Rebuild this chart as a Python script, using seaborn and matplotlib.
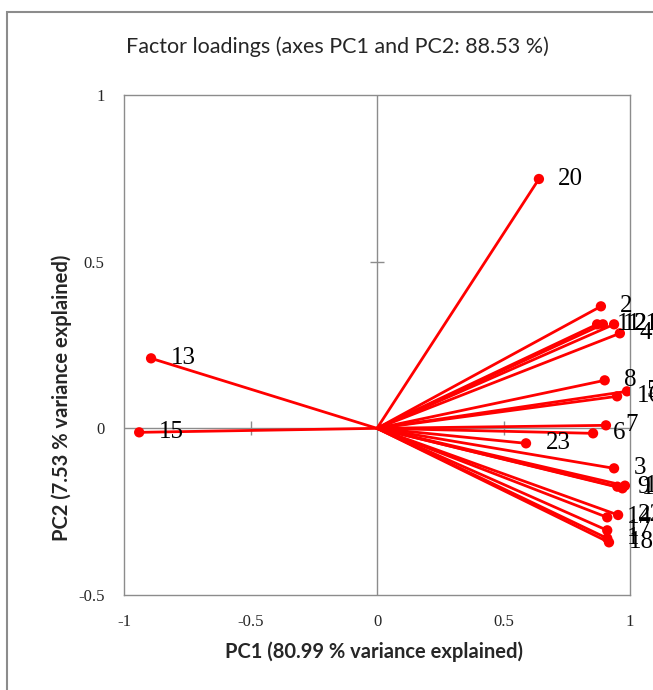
import matplotlib
matplotlib.use('Agg')
import matplotlib.pyplot as plt
from matplotlib.patches import Rectangle
import seaborn as sns
import pandas as pd

# factor loadings
labels = ['1', '2', '3', '4', '5', '6', '7', '8', '9', '10', '11', '12',
          '13', '14', '15', '16', '17', '18', '19', '20', '21', '22', '23']
pc1 = [0.91, 0.885, 0.937, 0.96, 0.988, 0.854, 0.905, 0.90, 0.95, 0.97,
       0.87, 0.893, -0.893, 0.91, -0.94, 0.949, 0.91, 0.917, 0.98, 0.64,
       0.937, 0.953, 0.589]
pc2 = [-0.33, 0.366, -0.12, 0.285, 0.111, -0.015, 0.009, 0.144, -0.175,
       -0.18, 0.312, 0.312, 0.21, -0.267, -0.012, 0.096, -0.306, -0.342,
       -0.172, 0.748, 0.312, -0.26, -0.045]

x_ticks = [-1, -0.5, 0, 0.5, 1]
y_ticks = [-0.5, 0, 0.5, 1]
grey = '#8c8c8c'

sns.set_style('white')
plt.rcParams['font.family'] = ['Liberation Serif', 'DejaVu Serif']

# one segment from the origin to each loading
segments = pd.DataFrame({
    'var': labels * 2,
    'x': [0.0] * len(labels) + pc1,
    'y': [0.0] * len(labels) + pc2,
})

fig = plt.figure(figsize=(6.53, 6.90), dpi=100)
ax = fig.add_axes([124 / 653, 1 - 595 / 690, 506 / 653, 500 / 690])

# cross-hair through the origin with small ticks
ax.axhline(0, color=grey, lw=1, zorder=1)
ax.axvline(0, color=grey, lw=1, zorder=1)
ax.plot([t for t in x_ticks if abs(t) == 0.5], [0, 0], ls='none',
        marker='|', ms=10, mew=1, color=grey, zorder=1)
ax.plot([0], [0.5], ls='none', marker='_', ms=10, mew=1, color=grey, zorder=1)

sns.lineplot(data=segments, x='x', y='y', units='var', estimator=None,
             sort=False, color='red', lw=2, ax=ax, zorder=2)
sns.scatterplot(x=pc1, y=pc2, color='red', s=55, edgecolor='none',
                ax=ax, zorder=3)

for name, px, py in zip(labels, pc1, pc2):
    ax.annotate(name, (px, py), xytext=(14, 0), textcoords='offset points',
                fontsize=18, va='center', ha='left', color='black',
                annotation_clip=False, zorder=4)

ax.set_xlim(-1, 1)
ax.set_ylim(-0.5, 1)
ax.set_xticks(x_ticks)
ax.set_xticklabels([f'{t:g}' for t in x_ticks])
ax.set_yticks(y_ticks)
ax.set_yticklabels([f'{t:g}' for t in y_ticks])
ax.tick_params(length=0, labelsize=12, pad=0)
ax.tick_params(axis='x', pad=14)
ax.tick_params(axis='y', pad=14)
ax.set_xlabel('')
ax.set_ylabel('')
for spine in ax.spines.values():
    spine.set_color(grey)
    spine.set_linewidth(1)

fig.text(337 / 653, 1 - 47 / 690, 'Factor loadings (axes PC1 and PC2: 88.53 %)',
         family='Lato', fontsize=15.5, ha='center', va='center')
fig.text(374 / 653, 1 - 652 / 690, 'PC1 (80.99 % variance explained)',
         family='Lato', fontsize=14.5, fontweight='bold', ha='center', va='center')
fig.text(62 / 653, 1 - 398 / 690, 'PC2 (7.53 % variance explained)',
         family='Lato', fontsize=14.5, fontweight='bold', ha='center',
         va='center', rotation=90)

# chart-area border (the picture is cropped on the right and bottom)
fig.patches.append(Rectangle((7 / 653, -0.1), 2, 1.1 - 12 / 690,
                             transform=fig.transFigure, fill=False,
                             ec=grey, lw=1.5))

fig.savefig('out.png', dpi=100)
